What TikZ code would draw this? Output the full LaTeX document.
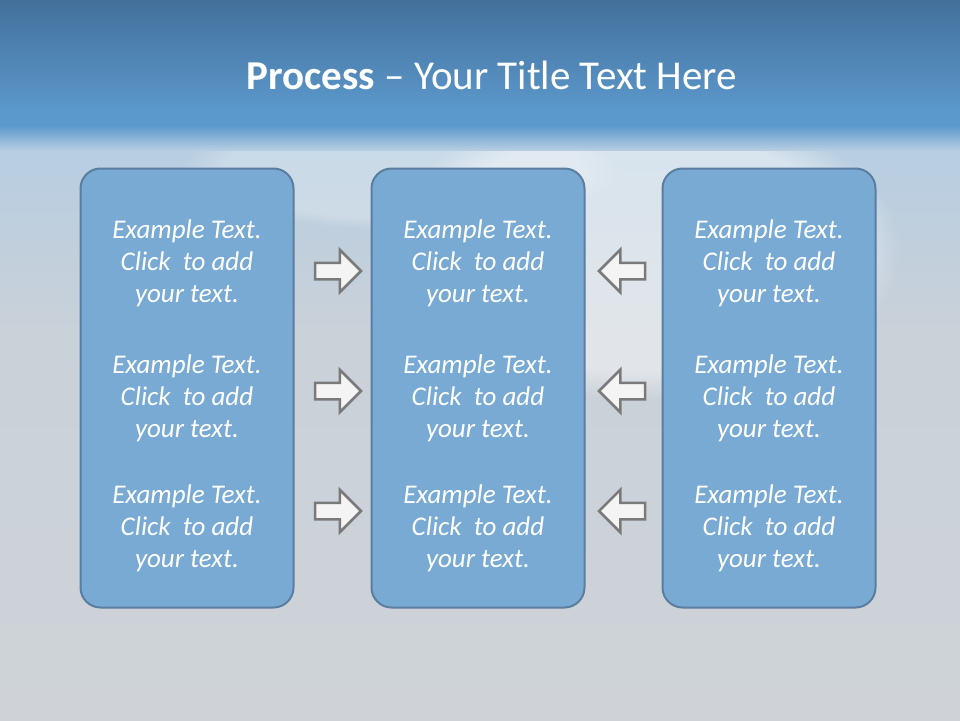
\documentclass[tikz,border=0pt]{standalone}
\usepackage{fontspec}
\setmainfont{Carlito}
\usetikzlibrary{shapes.arrows,fadings}
\definecolor{bartop}{HTML}{43709B}
\definecolor{barbot}{HTML}{5B98CB}
\definecolor{bgA}{HTML}{B5CDE2}
\definecolor{bgB}{HTML}{C9D1D9}
\definecolor{bgC}{HTML}{CFD3D8}
\definecolor{boxfill}{HTML}{78AAD4}
\definecolor{boxline}{HTML}{5A7DA0}
\definecolor{arrfill}{HTML}{F4F4F4}
\definecolor{arrline}{HTML}{7A7A7A}
\tikzset{
  procbox/.style={draw=boxline, line width=2pt, fill=boxfill, rounded corners=20pt,
    minimum width=213pt, minimum height=439pt, inner sep=0pt},
  txt/.style={text=white, align=center, font=\fontsize{27}{32}\selectfont\itshape, inner sep=0pt},
  blockarrow/.style={single arrow, draw=arrline, fill=arrfill, line width=2.5pt,
    minimum height=46pt, inner xsep=0pt, inner ysep=7pt, outer sep=0pt,
    single arrow head extend=13pt, single arrow tip angle=90},
  rarr/.style={blockarrow, anchor=tip},
  larr/.style={blockarrow, shape border rotate=180, anchor=tip},
}
\begin{document}
\begin{tikzpicture}[x=1pt,y=-1pt]
\useasboundingbox (0,0) rectangle (960,720);
% background
\shade[top color=bgA, bottom color=bgB] (0,125) rectangle (960,330);
\shade[top color=bgB, bottom color=bgC] (0,330) rectangle (960,720);
\fill[white, opacity=0.45, path fading=circle with fuzzy edge 20 percent] (640,250) ellipse [x radius=260pt, y radius=150pt];
\fill[white, opacity=0.25, path fading=circle with fuzzy edge 20 percent] (400,170) ellipse [x radius=220pt, y radius=60pt];
\shade[top color=bartop, bottom color=barbot] (0,0) rectangle (960,110);
\fill[barbot] (0,110) rectangle (960,125);
\shade[top color=barbot, bottom color=bgA] (0,125) rectangle (960,150);
% title
\node[text=white, font=\fontsize{41}{49}\selectfont, inner sep=0pt] (title) at (492,75) {\textbf{Process} -- Your Title Text Here};
% boxes
\node[procbox] (b1) at (187,388) {};
\node[procbox] (b2) at (478,388) {};
\node[procbox] (b3) at (769,388) {};
% texts
\foreach \n/\x in {1/187,2/478,3/769}{
  \node[txt] (t\n a) at (\x,263) {Example Text.\\Click\ \ to add\\your text.};
  \node[txt] (t\n b) at (\x,398) {Example Text.\\Click\ \ to add\\your text.};
  \node[txt] (t\n c) at (\x,528) {Example Text.\\Click\ \ to add\\your text.};
}
% arrows
\node[rarr] (r1) at (361,271) {};
\node[rarr] (r2) at (361,391) {};
\node[rarr] (r3) at (361,511) {};
\node[larr] (l1) at (599,271) {};
\node[larr] (l2) at (599,391) {};
\node[larr] (l3) at (599,511) {};
\end{tikzpicture}
\end{document}
